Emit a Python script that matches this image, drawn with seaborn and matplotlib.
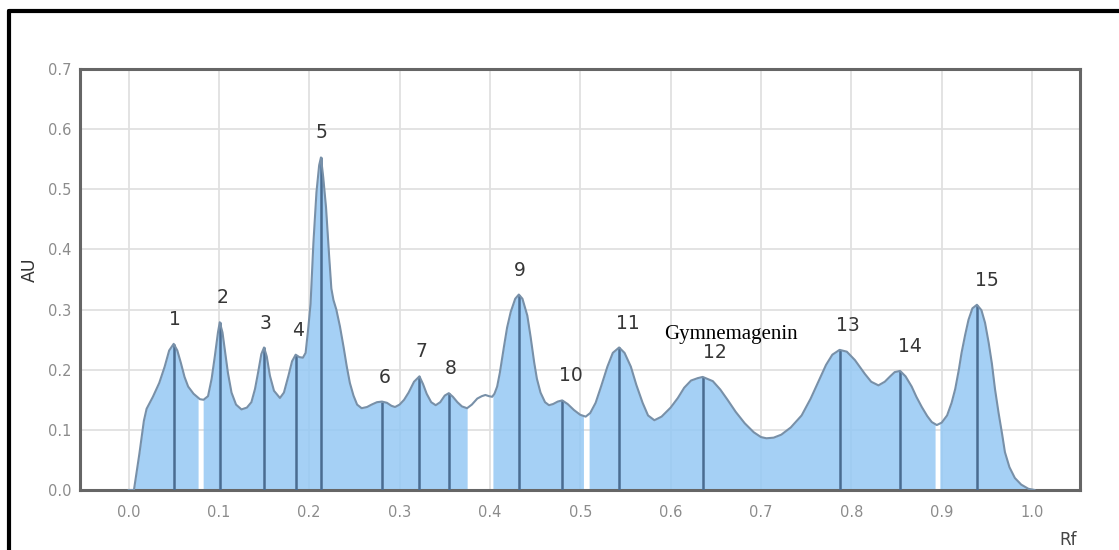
import numpy as np
import matplotlib
matplotlib.use("Agg")
import matplotlib.pyplot as plt
import seaborn as sns
from matplotlib.lines import Line2D

# ---------------- data ----------------
rf = [0.000, 0.006, 0.012, 0.017, 0.020, 0.027, 0.034, 0.040, 0.045, 0.050,
      0.054, 0.058, 0.062, 0.066, 0.072, 0.079, 0.083, 0.088, 0.092, 0.0955,
      0.099, 0.101, 0.104, 0.1066, 0.110, 0.114, 0.119, 0.125, 0.131, 0.136,
      0.140, 0.1435, 0.147, 0.150, 0.153, 0.1565, 0.161, 0.1676, 0.172, 0.177,
      0.181, 0.185, 0.189, 0.193, 0.196, 0.199, 0.2015, 0.2046, 0.208, 0.211,
      0.213, 0.2155, 0.2186, 0.222, 0.2245, 0.2268, 0.230, 0.234, 0.238, 0.2416,
      0.245, 0.249, 0.253, 0.258, 0.264, 0.269, 0.275, 0.2805, 0.286, 0.291,
      0.295, 0.300, 0.305, 0.310, 0.316, 0.322, 0.326, 0.330, 0.335, 0.340,
      0.345, 0.350, 0.3545, 0.359, 0.364, 0.369, 0.3747, 0.380, 0.386, 0.391,
      0.395, 0.399, 0.4025, 0.405, 0.408, 0.411, 0.4155, 0.419, 0.423, 0.428,
      0.432, 0.436, 0.4414, 0.445, 0.449, 0.452, 0.456, 0.461, 0.4654, 0.470,
      0.475, 0.480, 0.486, 0.493, 0.500, 0.506, 0.511, 0.517, 0.523, 0.530,
      0.536, 0.543, 0.549, 0.556, 0.562, 0.569, 0.575, 0.582, 0.590, 0.600,
      0.608, 0.615, 0.6226, 0.630, 0.6355, 0.6467, 0.655, 0.663, 0.672, 0.682,
      0.692, 0.700, 0.706, 0.714, 0.7225, 0.733, 0.745, 0.755, 0.765, 0.772,
      0.779, 0.787, 0.795, 0.804, 0.815, 0.822, 0.830, 0.837, 0.843, 0.848,
      0.854, 0.860, 0.8668, 0.872, 0.878, 0.884, 0.889, 0.8946, 0.900, 0.906,
      0.911, 0.915, 0.919, 0.922, 0.926, 0.9297, 0.934, 0.939, 0.944, 0.948,
      0.952, 0.9556, 0.959, 0.963, 0.967, 0.970, 0.975, 0.981, 0.988, 0.996,
      1.003]
au = [0.000, 0.000, 0.060, 0.115, 0.135, 0.155, 0.178, 0.205, 0.232, 0.243,
      0.232, 0.211, 0.188, 0.172, 0.160, 0.151, 0.150, 0.156, 0.185, 0.222,
      0.262, 0.279, 0.262, 0.233, 0.195, 0.162, 0.142, 0.134, 0.137, 0.146,
      0.168, 0.196, 0.226, 0.237, 0.222, 0.190, 0.165, 0.153, 0.162, 0.190,
      0.214, 0.225, 0.221, 0.220, 0.228, 0.270, 0.310, 0.410, 0.495, 0.540,
      0.553, 0.520, 0.470, 0.390, 0.335, 0.316, 0.300, 0.272, 0.238, 0.205,
      0.178, 0.157, 0.142, 0.136, 0.138, 0.142, 0.146, 0.147, 0.145, 0.140,
      0.138, 0.142, 0.150, 0.162, 0.180, 0.189, 0.176, 0.160, 0.146, 0.141,
      0.146, 0.157, 0.161, 0.155, 0.146, 0.139, 0.136, 0.142, 0.152, 0.156,
      0.158, 0.156, 0.155, 0.160, 0.172, 0.195, 0.238, 0.270, 0.296, 0.318,
      0.325, 0.318, 0.290, 0.255, 0.212, 0.185, 0.162, 0.146, 0.141, 0.143,
      0.147, 0.149, 0.143, 0.133, 0.125, 0.122, 0.128, 0.145, 0.172, 0.205,
      0.228, 0.237, 0.228, 0.205, 0.175, 0.145, 0.124, 0.116, 0.122, 0.137,
      0.153, 0.170, 0.182, 0.186, 0.188, 0.181, 0.167, 0.150, 0.130, 0.111,
      0.096, 0.088, 0.086, 0.087, 0.092, 0.104, 0.124, 0.152, 0.185, 0.208,
      0.225, 0.233, 0.230, 0.216, 0.193, 0.180, 0.174, 0.180, 0.189, 0.196,
      0.198, 0.189, 0.172, 0.155, 0.138, 0.123, 0.113, 0.108, 0.112, 0.124,
      0.145, 0.168, 0.200, 0.228, 0.258, 0.283, 0.302, 0.308, 0.299, 0.278,
      0.245, 0.210, 0.168, 0.128, 0.092, 0.063, 0.038, 0.020, 0.009, 0.002,
      0.000]

peak_rf = [0.050, 0.101, 0.150, 0.185, 0.213, 0.2805, 0.322, 0.3545,
           0.432, 0.480, 0.543, 0.6355, 0.787, 0.854, 0.939]
peak_labels = ["1", "2", "3", "4", "5", "6", "7", "8",
               "9", "10", "11", "12", "13", "14", "15"]
compound_name = "Gymnemagenin"
compound_peak = "12"

region_start = [0.006, 0.0826, 0.4033, 0.5098, 0.8980]
region_end = [0.0770, 0.3748, 0.5035, 0.8927, 1.003]

x_ticks = [0.0, 0.1, 0.2, 0.3, 0.4, 0.5, 0.6, 0.7, 0.8, 0.9, 1.0]
y_ticks = [0.0, 0.1, 0.2, 0.3, 0.4, 0.5, 0.6, 0.7]
x_title = "Rf"
y_title = "AU"

# ---------------- styles ----------------
W, H = 1119, 550
fill_col = "#95c8f4"
line_col = "#7890a8"
peak_col = "#4a6c90"
label_col = "#363636"
tick_col = "#8c8c8c"
label_dx_pt = [0.7, 2.2, 1.4, 1.4, 0.7, 2.2, 1.4, 1.4, 0.7, 6.5, 6.5, 8.6, 5.8, 7.2, 7.2]

sns.set_theme(style="whitegrid")
plt.rcParams["font.family"] = ["DejaVu Sans"]

fig = plt.figure(figsize=(W / 100, H / 100), dpi=100)
ax = fig.add_axes([80 / W, 60 / H, 1000 / W, 421 / H])

rf_a = np.asarray(rf)
au_a = np.asarray(au)

# filled integration regions
for s, e in zip(region_start, region_end):
    inside = rf_a[(rf_a > s) & (rf_a < e)]
    xs = np.concatenate([[s], inside, [e]])
    ys = np.interp(xs, rf_a, au_a)
    ax.fill_between(xs, 0, ys, color=fill_col, alpha=0.85, lw=0, zorder=2)

# peak lines
peak_h = np.interp(peak_rf, rf_a, au_a)
ax.vlines(peak_rf, 0, peak_h, color=peak_col, lw=1.8, zorder=3)

# outline
sns.lineplot(x=rf, y=au, ax=ax, color=line_col, lw=1.5, sort=False,
             estimator=None, zorder=4, legend=False)

# peak labels
for x, h, lab, dx in zip(peak_rf, peak_h, peak_labels, label_dx_pt):
    ax.annotate(lab, (x, h), xytext=(dx, 17.6), textcoords="offset points",
                ha="center", va="center", fontsize=13.5, color=label_col, zorder=5)
ci = peak_labels.index(compound_peak)
ax.annotate(compound_name, (peak_rf[ci], peak_h[ci]), xytext=(20, 30.5),
            textcoords="offset points", ha="center", va="center",
            fontsize=15, color="black", family="Liberation Serif", zorder=5)

ax.set_xlim(-0.0537, 1.0531)
ax.set_ylim(0, 0.7)
ax.set_xticks(x_ticks)
ax.set_xticklabels([f"{v:.1f}" for v in x_ticks])
ax.set_yticks(y_ticks)
ax.set_yticklabels([f"{v:.1f}" for v in y_ticks])
ax.tick_params(axis="both", colors=tick_col, labelsize=10.5, length=0)
ax.tick_params(axis="x", pad=11)
ax.tick_params(axis="y", pad=6)
ax.set_xlabel("")
ax.set_ylabel("")
ax.grid(True, color="#e0e0e0", lw=1.3)
ax.set_axisbelow(True)
for sp in ax.spines.values():
    sp.set_visible(True)
    sp.set_color("#666666")
    sp.set_linewidth(2.2)

fig.text(30 / W, 1 - 270 / H, y_title, rotation=90, ha="center", va="center",
         fontsize=12.5, color="#333333")
fig.text(1068 / W, 1 - 540 / H, x_title, ha="center", va="center",
         fontsize=12, color="#444444")

# outer frame of the source figure
fig.add_artist(Line2D([9 / W, 9 / W], [0, 1 - 11 / H], transform=fig.transFigure,
                      color="black", lw=3))
fig.add_artist(Line2D([9 / W, 1], [1 - 11 / H, 1 - 11 / H], transform=fig.transFigure,
                      color="black", lw=3))

fig.savefig("out.png", dpi=100)
